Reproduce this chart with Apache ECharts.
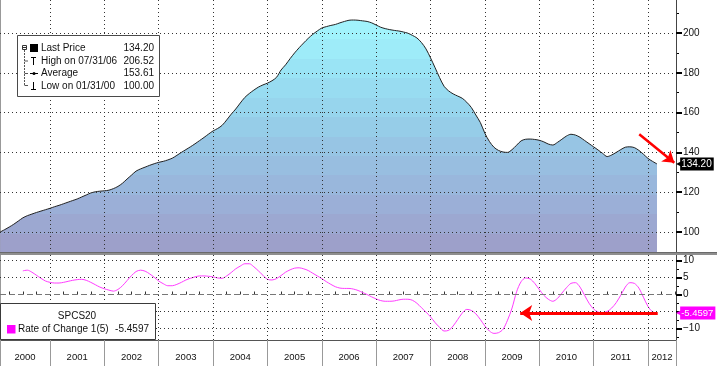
<!DOCTYPE html>
<html><head><meta charset="utf-8">
<script src="https://cdn.jsdelivr.net/npm/echarts@6/dist/echarts.min.js"></script>
<style>html,body{margin:0;padding:0;background:#fff}#c{width:717px;height:366px}</style>
</head><body><div id="c"></div>
<script>
// ---- data ----
const priceStart = [2000, 1];   // Jan 2000, monthly, month-end
const priceValues = [
  100.0,101.2,102.5,103.9,105.5,107.1,108.2,109.0,109.8,110.5,111.2,111.9,
  112.7,113.4,114.2,115.0,115.8,116.6,117.6,118.6,119.6,120.2,120.5,120.7,
  121.0,121.8,122.9,124.5,126.6,128.6,130.6,131.7,132.6,133.5,134.3,135.0,
  135.5,136.2,137.1,138.5,140.0,141.4,142.8,144.3,145.9,147.5,149.2,150.8,
  152.0,153.6,156.3,159.2,161.8,164.8,167.6,169.6,171.3,172.8,173.9,174.8,
  176.0,177.7,181.4,184.0,187.1,190.0,192.6,195.0,197.3,199.3,201.0,202.5,
  203.2,203.8,204.3,205.1,205.8,206.4,206.52,206.4,206.1,205.8,205.1,204.0,
  202.9,202.2,201.7,201.3,201.0,200.5,199.9,198.8,197.5,195.2,192.0,187.5,
  182.6,177.6,173.2,170.9,169.4,168.3,167.2,165.2,162.6,158.8,155.0,149.6,
  145.5,142.6,141.0,140.2,140.0,141.4,143.6,145.8,146.6,146.7,146.5,146.1,
  145.3,144.2,143.7,145.0,146.6,148.2,149.1,148.7,147.6,146.0,144.4,142.8,
  141.2,139.5,137.9,138.7,140.0,141.4,142.6,142.8,142.4,141.0,139.1,137.0,
  135.5,134.2
];
const rocStart = [2000, 6];     // Jun 2000
const rocValues = [
  7.0,7.2,6.6,5.7,4.8,4.0,3.6,
  3.4,3.4,3.6,3.9,4.2,4.4,4.5,4.2,3.6,2.9,2.2,1.7,
  1.3,1.0,1.5,2.6,4.1,5.6,6.8,7.2,6.9,6.1,5.1,4.0,
  3.2,2.6,2.6,3.0,3.6,4.3,4.8,5.2,5.5,5.5,5.4,5.2,
  4.9,4.8,5.5,6.5,7.6,8.4,9.1,9.1,8.2,7.0,5.7,4.5,
  4.3,4.7,5.6,6.6,7.3,7.8,7.9,7.6,7.1,6.3,5.5,4.7,
  3.8,3.0,2.3,1.9,1.8,1.8,1.6,1.2,0.6,0.0,-0.7,-1.3,
  -1.8,-2.0,-2.0,-1.9,-1.6,-1.4,-1.4,-1.7,-2.6,-3.9,-5.2,-6.6,
  -8.3,-9.7,-10.8,-10.6,-9.3,-7.4,-5.5,-4.4,-4.7,-5.7,-7.4,-9.3,
  -10.8,-11.5,-11.3,-10.3,-7.6,-4.0,0.8,3.8,4.9,4.6,3.3,1.5,
  -0.2,-1.4,-2.0,-1.2,0.4,2.0,3.3,3.5,2.2,-0.2,-2.6,-4.3,
  -5.2,-5.4,-5.0,-4.0,-2.4,-0.2,2.2,3.5,3.3,1.9,-0.8,-3.5,
  -5.1,-5.4597
];
const yearLabels = [2000,2001,2002,2003,2004,2005,2006,2007,2008,2009,2010,2011,2012];
const priceTicks = [100,120,140,160,180,200];
const priceMinorTicks = [90,100,110,120,130,140,150,160,170,180,190,200,210];
const rocTicks = [-10,-5,0,5,10];
const rocTickLabels = [-10,0,5,10];
const rocMinorTicks = [-12.5,-10,-7.5,-5,-2.5,0,2.5,5,7.5,10];
const legendRows = [
  ['Last Price','134.20'],
  ['High on 07/31/06','206.52'],
  ['Average','153.61'],
  ['Low on 01/31/00','100.00']
];
const lowerLegendTitle = 'SPCS20';
const lowerLegendRow = ['Rate of Change 1(5)', '-5.4597'];
const lastPriceText = '134.20';
const lastRocText = '-5.4597';
const priceArrow = [[2011.84,149.1],[2012.485,134.8]];
const rocArrow = [[2012.18,-5.5],[2009.65,-5.5]];

// ---- axis ranges ----
const XMIN = 2000.08, XMAX = 2012.516;
const PMIN = 89.44, PMAX = 216.58;
const RMIN = -13.46, RMAX = 11.69;

function toSeries(start, vals){
  return vals.map((v,i)=>[start[0] + (start[1] + i)/12, v]);
}
const priceData = toSeries(priceStart, priceValues);
const rocData = toSeries(rocStart, rocValues);
const lastPrice = priceValues[priceValues.length-1];
const lastRoc = rocValues[rocValues.length-1];

const yearBounds = [XMIN].concat(yearLabels.slice(1)).concat([XMAX]);
const innerBounds = yearLabels.slice(1);
const yearCenters = yearLabels.map(y => (Math.max(y, XMIN) + Math.min(y+1, XMAX))/2);
const quarterTicks = [];
yearLabels.forEach(y => [0.25,0.5,0.75].forEach(q => { if (y+q > XMIN && y+q < XMAX) quarterTicks.push(y+q); }));

// stepped gradient
function hex(c){return [parseInt(c.substr(1,2),16),parseInt(c.substr(3,2),16),parseInt(c.substr(5,2),16)];}
function interp(cols,t){
  const s=t*(cols.length-1); const i=Math.min(Math.floor(s),cols.length-2); const f=s-i;
  const a=hex(cols[i]), b=hex(cols[i+1]);
  return 'rgb('+a.map((x,k)=>Math.round(x+(b[k]-x)*f)).join(',')+')';
}
const bandCols = ['#a3f7fe','#98e0f3','#96c9e6','#9ab3da','#9e9cc7'];
const stops=[]; const NB=12;
for(let k=0;k<NB;k++){const c=interp(bandCols,(k+0.5)/NB); stops.push({offset:k/NB,color:c},{offset:(k+1)/NB,color:c});}

const FONT = 'Liberation Sans';
const LFS = 10;
const dotStyle = {color:'#333333', type:[1,3], width:1};

const chart = echarts.init(document.getElementById('c'), null, {renderer:'canvas'});

// legend graphics
const g = [];
g.push({type:'rect', shape:{x:0,y:252,width:717,height:3}, style:{fill:'#8e8e8e'}, z:50});
g.push({type:'rect', shape:{x:0,y:252,width:717,height:1}, style:{fill:'#6a6a6a'}, z:50});
g.push({type:'rect', shape:{x:17.5,y:35.5,width:142,height:61}, style:{fill:'#fff', stroke:'#4a4a4a', lineWidth:1}, z:100});
const rowY = [48.5, 61, 73.5, 86];
legendRows.forEach((r,i)=>{
  g.push({type:'text', x:41, y:rowY[i], style:{text:r[0], fill:'#111', font:LFS+'px '+FONT, verticalAlign:'middle'}, z:101});
  g.push({type:'text', x:154, y:rowY[i], style:{text:r[1], fill:'#111', font:LFS+'px '+FONT, verticalAlign:'middle', align:'right'}, z:101});
});
// icons
g.push({type:'rect', shape:{x:22.5,y:45.5,width:4,height:4}, style:{fill:'#fff',stroke:'#333',lineWidth:1}, z:101});
g.push({type:'line', shape:{x1:23,y1:47.5,x2:26,y2:47.5}, style:{stroke:'#333',lineWidth:1}, z:101});
g.push({type:'rect', shape:{x:30,y:44,width:8,height:8}, style:{fill:'#000'}, z:101});
g.push({type:'line', shape:{x1:24.5,y1:50,x2:24.5,y2:85.5}, style:{stroke:'#555',lineWidth:1,lineDash:[2,1]}, z:101});
[61,73.5].forEach(y=>g.push({type:'line', shape:{x1:24.5,y1:y,x2:28,y2:y}, style:{stroke:'#555',lineWidth:1}, z:101}));
g.push({type:'line', shape:{x1:24.5,y1:85.5,x2:28,y2:85.5}, style:{stroke:'#555',lineWidth:1}, z:101});
g.push({type:'line', shape:{x1:31,y1:57.5,x2:36,y2:57.5}, style:{stroke:'#000',lineWidth:1}, z:101});
g.push({type:'line', shape:{x1:33.5,y1:57.5,x2:33.5,y2:65}, style:{stroke:'#000',lineWidth:1}, z:101});
g.push({type:'line', shape:{x1:30,y1:73.5,x2:38,y2:73.5}, style:{stroke:'#000',lineWidth:1}, z:101});
g.push({type:'circle', shape:{cx:34,cy:73.5,r:1.5}, style:{fill:'#000'}, z:101});
g.push({type:'line', shape:{x1:33.5,y1:82,x2:33.5,y2:89.5}, style:{stroke:'#000',lineWidth:1}, z:101});
g.push({type:'line', shape:{x1:31,y1:89.5,x2:36,y2:89.5}, style:{stroke:'#000',lineWidth:1}, z:101});
// lower legend
g.push({type:'rect', shape:{x:0.5,y:303.5,width:155,height:36}, style:{fill:'#fff', stroke:'#3a3a3a', lineWidth:1}, z:100});
g.push({type:'text', x:77, y:316, style:{text:lowerLegendTitle, fill:'#111', font:LFS+'px '+FONT, align:'center', verticalAlign:'middle'}, z:101});
g.push({type:'rect', shape:{x:7,y:325,width:8.5,height:8.5}, style:{fill:'#ff00ff'}, z:101});
g.push({type:'text', x:18, y:329.5, style:{text:lowerLegendRow[0], fill:'#111', font:LFS+'px '+FONT, verticalAlign:'middle'}, z:101});
g.push({type:'text', x:149, y:329.5, style:{text:lowerLegendRow[1], fill:'#111', font:LFS+'px '+FONT, verticalAlign:'middle', align:'right'}, z:101});

function tagLabel(text, bg, fs){
  return {show:true, position:'end', distance:0, formatter:'{a|◀}{b|'+text+'}',
    rich:{a:{color:bg, fontSize:8, fontFamily:'DejaVu Sans', padding:[0,-2,0,0]},
          b:{backgroundColor:bg, color:'#fff', fontSize:fs, fontFamily:FONT, padding:[2,2,1,1]}}};
}
function gridLine(xi, yi, items, style){
  return {type:'line', xAxisIndex:xi, yAxisIndex:yi, data:[], z:3, silent:true,
    markLine:{silent:true, animation:false, symbol:'none', label:{show:false}, lineStyle:style, data:items}};
}
function helper(xi, yi, z, markLine){
  return {type:'line', xAxisIndex:xi, yAxisIndex:yi, data:[], z:z, silent:true, markLine:Object.assign({silent:true, animation:false}, markLine)};
}

const mainGridItems = priceTicks.map(v=>({yAxis:v})).concat(innerBounds.map(v=>({xAxis:v})));
const lowGridItems = rocTicks.filter(v=>v!==0).map(v=>({yAxis:v})).concat(innerBounds.map(v=>({xAxis:v})));

const option = {
  animation:false,
  backgroundColor:'#fff',
  textStyle:{fontFamily:FONT},
  graphic:g,
  grid:[
    {left:0, right:41, top:0, height:253, outerBoundsMode:'none'},
    {left:0, right:41, top:255, height:85, outerBoundsMode:'none'}
  ],
  xAxis:[
    {gridIndex:0, type:'value', min:XMIN, max:XMAX,
      axisLine:{show:false}, axisTick:{show:false}, axisLabel:{show:false}, splitLine:{show:false}},
    {gridIndex:1, type:'value', min:XMIN, max:XMAX, z:3,
      axisLine:{show:true, onZero:false, lineStyle:{color:'#555', width:1}},
      axisTick:{show:true, customValues:yearBounds, length:26, lineStyle:{color:'#999', width:1}},
      axisLabel:{show:true, customValues:yearCenters, formatter:v=>String(Math.floor(v)), color:'#111', fontSize:9.5, margin:12},
      splitLine:{show:false}},
    {gridIndex:1, type:'value', min:XMIN, max:XMAX,
      axisLine:{show:false}, axisTick:{show:true, customValues:quarterTicks, length:3, lineStyle:{color:'#333'}},
      axisLabel:{show:false}, splitLine:{show:false}}
  ],
  yAxis:[
    {gridIndex:0, type:'value', position:'right', min:PMIN, max:PMAX, z:3,
      axisLine:{show:true, lineStyle:{color:'#444'}},
      axisTick:{show:true, customValues:priceTicks, length:6, lineStyle:{color:'#000', width:2}},
      axisLabel:{show:true, customValues:priceTicks, color:'#111', fontSize:10, margin:7},
      splitLine:{show:false}},
    {gridIndex:0, type:'value', position:'right', min:PMIN, max:PMAX,
      axisLine:{show:false}, axisTick:{show:true, customValues:priceMinorTicks, length:3, lineStyle:{color:'#000'}},
      axisLabel:{show:false}, splitLine:{show:false}},
    {gridIndex:1, type:'value', position:'right', min:RMIN, max:RMAX, z:3,
      axisLine:{show:true, lineStyle:{color:'#444'}},
      axisTick:{show:true, customValues:rocTicks, length:6, lineStyle:{color:'#000', width:2}},
      axisLabel:{show:true, customValues:rocTickLabels, color:'#111', fontSize:10, margin:7,
        formatter:v=> v<0 ? '\u2212'+Math.abs(v) : String(v)},
      splitLine:{show:false}},
    {gridIndex:1, type:'value', position:'right', min:RMIN, max:RMAX,
      axisLine:{show:false}, axisTick:{show:true, customValues:rocMinorTicks, length:3, lineStyle:{color:'#000'}},
      axisLabel:{show:false}, splitLine:{show:false}},
    {gridIndex:0, type:'value', position:'left', min:PMIN, max:PMAX,
      axisLine:{show:true, lineStyle:{color:'#999'}}, axisTick:{show:false}, axisLabel:{show:false}, splitLine:{show:false}},
    {gridIndex:1, type:'value', position:'left', min:RMIN, max:RMAX,
      axisLine:{show:true, lineStyle:{color:'#999'}}, axisTick:{show:false}, axisLabel:{show:false}, splitLine:{show:false}}
  ],
  series:[
    {type:'line', xAxisIndex:0, yAxisIndex:0, data:priceData, smooth:0.3, showSymbol:false, z:2,
      lineStyle:{color:'#222', width:1},
      areaStyle:{opacity:1, color:{type:'linear', x:0, y:0, x2:0, y2:1, colorStops:stops}}},
    {type:'line', xAxisIndex:1, yAxisIndex:2, data:rocData, smooth:0.3, showSymbol:false, z:4,
      lineStyle:{color:'#ff3cff', width:1}},
    gridLine(0, 0, mainGridItems, dotStyle),
    gridLine(1, 2, lowGridItems, dotStyle),
    gridLine(1, 2, [{yAxis:0}], {color:'#777', type:[6,3], width:1}),
    helper(0, 0, 6, {symbol:['none','arrow'], symbolSize:11, lineStyle:{color:'#ff0000', width:2.5, type:'solid'}, label:{show:false},
      data:[[{coord:priceArrow[0]},{coord:priceArrow[1]}]]}),
    helper(1, 2, 6, {symbol:['none','arrow'], symbolSize:12, lineStyle:{color:'#ff0000', width:3, type:'solid'}, label:{show:false},
      data:[[{coord:rocArrow[0]},{coord:rocArrow[1]}]]}),
    helper(0, 0, 6, {symbol:'none', lineStyle:{color:'rgba(0,0,0,0)', width:0}, label:tagLabel(lastPriceText,'#000',10),
      data:[{yAxis:lastPrice}]}),
    helper(1, 2, 6, {symbol:'none', lineStyle:{color:'rgba(0,0,0,0)', width:0}, label:tagLabel(lastRocText,'#ff00ff',9.5),
      data:[{yAxis:lastRoc}]})
  ]
};
chart.setOption(option);
</script></body></html>
